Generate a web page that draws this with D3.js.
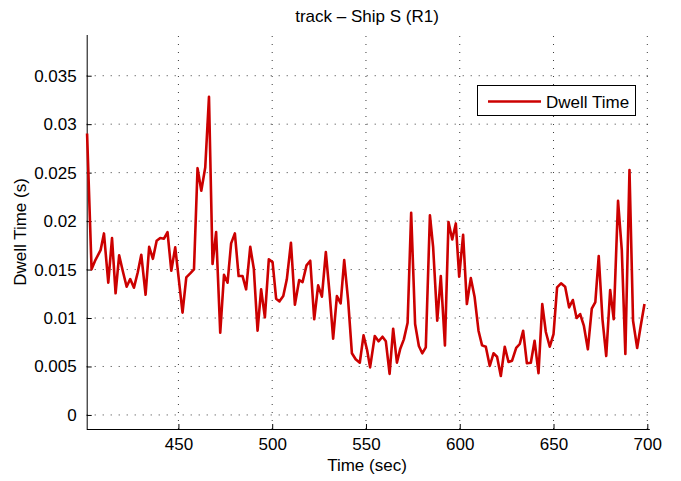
<!DOCTYPE html>
<html>
<head>
<meta charset="utf-8">
<script src="https://cdn.jsdelivr.net/npm/d3@7/dist/d3.min.js"></script>
<style>
  html, body { margin: 0; padding: 0; background: #fff; }
  svg text { font-family: "Liberation Sans", Arial, Helvetica, sans-serif; fill: #000; }
</style>
</head>
<body>
<svg id="chart" width="681" height="481"></svg>
<script>
// Dwell time samples for track Ship S (R1)
const timeSec = [
  401.3, 403.7, 405.8, 408.5, 410.3, 412.6, 414.6, 416.5, 418.4, 420.4,
  422.4, 424.3, 426.3, 428.3, 430.2, 432.5, 434.4, 436.4, 438.4, 440.3,
  442.3, 444.2, 446.2, 448.3, 452.2, 454.2, 456.3, 458.3, 460.2, 462.2,
  464.3, 466.3, 468.2, 470.1, 472.3, 474.3, 476.2, 478.1, 480.1, 482.1,
  484.2, 486.1, 488.3, 490.2, 492.2, 494.1, 496.1, 498.2, 500.2, 502.1,
  503.9, 505.9, 507.8, 510.0, 512.1, 514.4, 516.2, 518.3, 520.3, 522.4,
  524.5, 526.5, 528.6, 530.6, 532.5, 534.5, 536.5, 538.4, 540.5, 542.5,
  544.5, 546.7, 548.7, 550.6, 552.2, 554.7, 556.7, 558.8, 560.6, 562.6,
  564.5, 566.5, 568.2, 570.2, 572.2, 574.1, 576.2, 578.2, 580.0, 581.9,
  584.1, 585.8, 588.0, 589.9, 592.1, 594.0, 596.0, 597.9, 599.7, 601.8,
  603.8, 605.9, 607.9, 610.0, 611.9, 613.9, 616.0, 618.0, 619.9, 621.9,
  624.0, 626.0, 627.9, 630.1, 632.0, 633.8, 635.8, 637.9, 639.9, 642.0,
  644.0, 645.9, 648.0, 650.0, 651.9, 654.0, 656.2, 658.3, 660.3, 662.3,
  664.2, 666.2, 668.3, 670.4, 672.3, 674.1, 676.1, 678.1, 680.2, 682.1,
  684.4, 686.4, 688.3, 690.5, 692.4, 694.6, 696.5, 698.5
];
const dwellTime = [
  0.02904, 0.01502, 0.01600, 0.01700, 0.01873, 0.01364, 0.01825, 0.01255, 0.01646, 0.01480,
  0.01323, 0.01402, 0.01313, 0.01470, 0.01653, 0.01240, 0.01735, 0.01611, 0.01797, 0.01825,
  0.01818, 0.01887, 0.01488, 0.01729, 0.01055, 0.01420, 0.01460, 0.01502, 0.02546, 0.02313,
  0.02553, 0.03282, 0.01557, 0.01887, 0.00848, 0.01446, 0.01364, 0.01770, 0.01873, 0.01433,
  0.01433, 0.01296, 0.01735, 0.01508, 0.00869, 0.01296, 0.01007, 0.01605, 0.01577, 0.01199,
  0.01172, 0.01227, 0.01399, 0.01777, 0.01137, 0.01392, 0.01371, 0.01543, 0.01591, 0.00987,
  0.01337, 0.01220, 0.01680, 0.01254, 0.00787, 0.01227, 0.01151, 0.01598, 0.01180, 0.00636,
  0.00574, 0.00539, 0.00821, 0.00670, 0.00491, 0.00814, 0.00760, 0.00807, 0.00760, 0.00423,
  0.00890, 0.00539, 0.00677, 0.00780, 0.00952, 0.02086, 0.00938, 0.00711, 0.00636, 0.00698,
  0.02059, 0.01735, 0.00972, 0.01433, 0.00718, 0.01990, 0.01811, 0.01976, 0.01426, 0.01859,
  0.01144, 0.01412, 0.01220, 0.00869, 0.00718, 0.00704, 0.00505, 0.00636, 0.00601, 0.00402,
  0.00704, 0.00546, 0.00560, 0.00691, 0.00732, 0.00869, 0.00533, 0.00539, 0.00766, 0.00430,
  0.01144, 0.00856, 0.00704, 0.00835, 0.01317, 0.01358, 0.01323, 0.01110, 0.01186, 0.01000,
  0.01041, 0.00918, 0.00677, 0.01096, 0.01165, 0.01639, 0.00987, 0.00608, 0.01289, 0.00987,
  0.02209, 0.01701, 0.00629, 0.02526, 0.00972, 0.00691, 0.00920, 0.01144
];
const xTicks = [450, 500, 550, 600, 650, 700];
const yTicks = [0, 0.005, 0.01, 0.015, 0.02, 0.025, 0.03, 0.035];
const yTickLabels = ["0", "0.005", "0.01", "0.015", "0.02", "0.025", "0.03", "0.035"];
const seriesName = "Dwell Time";
const titleText = "track \u2013 Ship S (R1)";
const xLabel = "Time (sec)";
const yLabel = "Dwell Time (s)";

const svg = d3.select("#chart");
const plotLeft = 86.7, plotRight = 647.3, plotTop = 35, plotBottom = 429;
const fontSize = 17;
const red = "#cc0000";

const x = d3.scaleLinear().domain([401.1, 700]).range([plotLeft, plotRight]);
const y = d3.scaleLinear().domain([-0.00145, 0.0392]).range([plotBottom, plotTop]);

// dotted grid
const grid = svg.append("g").attr("stroke", "#3a3a3a").attr("stroke-width", 1)
  .attr("stroke-dasharray", "1,7").attr("fill", "none");
xTicks.forEach(t => {
  grid.append("line").attr("x1", x(t)).attr("x2", x(t)).attr("y1", plotBottom).attr("y2", plotTop);
});
yTicks.forEach(t => {
  grid.append("line").attr("x1", plotLeft).attr("x2", plotRight + 2).attr("y1", y(t)).attr("y2", y(t));
});

// axes (ticks pointing inward)
const xAxis = d3.axisBottom(x).tickValues(xTicks).tickSize(-5).tickPadding(9)
  .tickFormat(d3.format("d"));
const gx = svg.append("g").attr("transform", `translate(0,${plotBottom})`).call(xAxis);
const yAxis = d3.axisLeft(y).tickValues(yTicks).tickSize(-5).tickPadding(10)
  .tickFormat((d, i) => yTickLabels[i]);
const gy = svg.append("g").attr("transform", `translate(${plotLeft},0)`).call(yAxis);

[gx, gy].forEach(g => {
  g.select(".domain").attr("stroke", "#000").attr("stroke-width", 1);
  g.selectAll(".tick line").attr("stroke", "#000").attr("stroke-width", 1);
  g.selectAll(".tick text").attr("font-size", fontSize)
    .attr("font-family", "'Liberation Sans', Arial, sans-serif").attr("fill", "#000");
});
gx.select(".domain").attr("d", `M${plotLeft},0.5H${plotRight + 2.5}`);
gy.select(".domain").attr("d", `M0.5,${plotBottom}V${plotTop}`);

// data line
const line = d3.line().x((d, i) => x(timeSec[i])).y(d => y(d));
svg.append("path").datum(dwellTime)
  .attr("d", line).attr("fill", "none").attr("stroke", red)
  .attr("stroke-width", 2.6).attr("stroke-linejoin", "round");

// title and axis labels
svg.append("text").attr("x", (plotLeft + plotRight) / 2).attr("y", 22)
  .attr("text-anchor", "middle").attr("font-size", fontSize).text(titleText);
svg.append("text").attr("x", (plotLeft + plotRight) / 2).attr("y", 471)
  .attr("text-anchor", "middle").attr("font-size", fontSize).text(xLabel);
svg.append("text").attr("transform", `translate(26,${(plotTop + plotBottom) / 2}) rotate(-90)`)
  .attr("text-anchor", "middle").attr("font-size", fontSize).text(yLabel);

// legend
const lg = svg.append("g");
lg.append("rect").attr("x", 477.5).attr("y", 85.5).attr("width", 158).attr("height", 30)
  .attr("fill", "#fff").attr("stroke", "#000").attr("stroke-width", 1);
lg.append("line").attr("x1", 488).attr("x2", 541).attr("y1", 101.5).attr("y2", 101.5)
  .attr("stroke", red).attr("stroke-width", 2.6);
lg.append("text").attr("x", 546).attr("y", 107.5).attr("font-size", fontSize).text(seriesName);
</script>
</body>
</html>
